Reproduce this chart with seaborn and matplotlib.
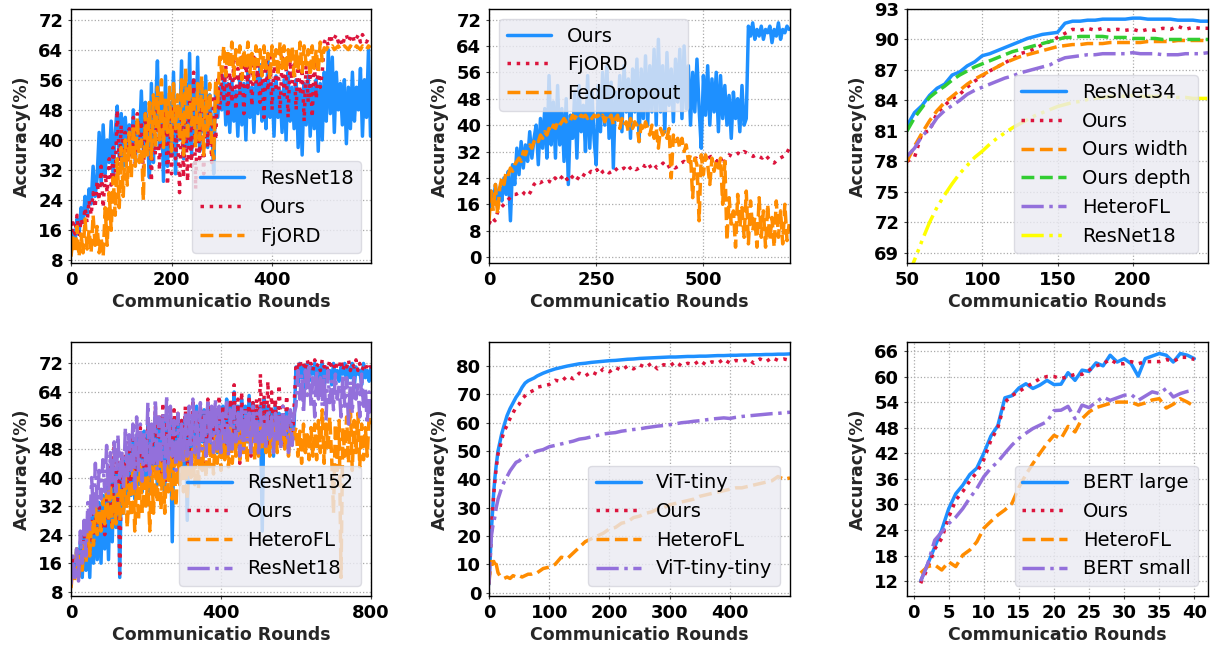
import matplotlib
matplotlib.use("Agg")
import matplotlib.pyplot as plt
import numpy as np
import seaborn as sns

# ---------------- panel 1: ResNet18 / Ours / FjORD (every 4 rounds)
p1_step = 4
p1_resnet18 = [12, 16, 13, 19, 15, 22, 18, 25, 20, 27, 23, 33, 25, 30, 42, 28, 44, 31, 40, 34,
               45, 30, 42, 49, 35, 47, 33, 46, 38, 44, 36, 48, 34, 45, 39, 53, 37, 50, 41, 30,
               55, 34, 48, 61, 38, 52, 29, 57, 33, 50, 36, 58, 31, 49, 40, 61, 35, 55, 38, 63,
               36, 56, 40, 62, 37, 54, 42, 57, 38, 52, 44, 31, 55, 46, 54, 48, 57, 44, 55, 42,
               56, 45, 53, 41, 57, 44, 55, 40, 58, 46, 54, 42, 57, 47, 60, 45, 55, 43, 62, 46,
               55, 41, 57, 46, 53, 42, 56, 40, 58, 45, 54, 43, 56, 38, 53, 36, 55, 44, 57, 41,
               54, 43, 56, 37, 55, 40, 58, 45, 64, 47, 62, 42, 58, 48, 55, 44, 56, 39, 54, 43,
               58, 45, 54, 48, 59, 41, 56, 46, 64, 41]
p1_ours = [13, 18, 15, 20, 14, 19, 17, 22, 18, 24, 20, 26, 22, 29, 24, 33, 22, 31, 26, 35,
           28, 38, 30, 48, 33, 44, 36, 42, 34, 43, 36, 46, 33, 47, 38, 45, 31, 47, 36, 45,
           29, 48, 36, 50, 32, 46, 38, 49, 28, 46, 31, 49, 35, 44, 26, 47, 30, 45, 29, 50,
           33, 58, 27, 47, 35, 49, 31, 52, 38, 48, 34, 52, 40, 56, 48, 58, 50, 60, 46, 58,
           50, 61, 48, 59, 52, 62, 47, 60, 54, 61, 49, 62, 55, 60, 50, 59, 46, 61, 53, 62,
           48, 61, 54, 60, 47, 62, 52, 59, 46, 61, 55, 60, 48, 62, 52, 59, 45, 61, 50, 58,
           46, 61, 51, 59, 54, 58, 66, 67, 65, 68, 66, 67, 68, 66, 67, 65, 67, 68, 66, 67,
           68, 66, 67, 68, 66, 68, 67, 66, 67, 67.5]
p1_fjord = [9, 14, 10, 17, 9, 15, 10, 19, 11, 16, 10, 20, 12, 17, 10, 14, 9, 22, 12, 26,
            16, 30, 20, 35, 22, 38, 25, 40, 28, 42, 30, 44, 33, 46, 34, 40, 24, 47, 36, 50,
            35, 52, 38, 54, 40, 56, 38, 51, 42, 54, 37, 55, 43, 52, 40, 56, 36, 59, 40, 55,
            44, 52, 38, 55, 40, 57, 36, 53, 42, 55, 38, 35, 56, 50, 62, 58, 65, 57, 64, 59,
            66, 57, 64, 60, 65, 56, 64, 59, 66, 58, 63, 56, 65, 60, 64, 57, 65, 59, 63, 56,
            65, 60, 64, 57, 66, 59, 65, 58, 64, 60, 65, 57, 64, 59, 66, 58, 65, 60, 64, 57,
            65, 59, 64, 58, 66, 61, 64.5, 64, 65, 64.5, 65, 64, 64.5, 65, 64, 64.5, 65, 64.5, 64, 65,
            64.5, 64, 65, 64.5, 64, 65, 64.5, 64, 65, 64.5]

# ---------------- panel 2: Ours / FjORD / FedDropout
p2_step = 5
p2_ours = [13, 20, 16, 22, 15, 21, 17, 24, 19, 26, 11, 28, 22, 33, 25, 35, 27, 34, 29, 38,
           30, 36, 40, 28, 42, 33, 45, 30, 55, 34, 47, 30, 52, 34, 45, 29, 48, 22, 43, 36,
           50, 30, 52, 38, 46, 32, 55, 33, 50, 36, 28, 52, 38, 56, 40, 58, 36, 53, 27, 50,
           42, 55, 38, 58, 44, 54, 36, 57, 44, 60, 35, 57, 42, 61, 40, 58, 44, 63, 40, 66,
           44, 58, 38, 62, 46, 57, 41, 60, 47, 63, 42, 64, 45, 58, 40, 56, 44, 60, 45, 33,
           55, 43, 58, 40, 54, 44, 56, 38, 55, 42, 52, 40, 49, 36, 50, 42, 48, 38, 52, 40,
           42, 70, 67, 71, 66, 69, 67, 70, 66, 69, 68, 70, 65, 69, 67, 71, 66, 69, 68, 70, 69]
p2_fjord_step = 7
p2_fjord = [10, 12, 11, 14, 15, 16, 17, 18, 19, 19, 19.5, 20, 19, 18.5, 20, 22, 23, 22.5, 23, 22.5,
            23, 22.5, 24, 23, 24, 25, 23.5, 25, 24, 23, 24.5, 24, 25.5, 25, 26, 25.5, 26.5, 25, 26, 26.5,
            25.5, 26, 27, 26, 26.5, 27, 26, 27, 27.5, 26.5, 27, 28, 27.5, 28.5, 27, 28, 27, 27.5, 28.5, 27,
            27.5, 28, 27, 27.5, 28.5, 29, 28, 29, 28.5, 30, 29, 30, 29.5, 30, 30.5, 30, 29, 30.5, 28, 30,
            31, 30.5, 31, 31.5, 31, 32, 31.5, 31, 30.5, 31, 30.5, 30, 31, 30, 29, 28.5, 29.5, 30, 30.5, 31, 33]
p2_feddropout = [11, 20, 14, 22, 13, 21, 24, 22, 26, 25, 27, 26, 28, 29, 30, 29, 32, 31, 33, 34,
                 33, 35, 36, 35, 37, 36, 38, 37, 39, 38, 40, 39, 41, 40, 41, 42, 41, 42, 41.5, 43,
                 42, 43, 42, 43, 42.5, 43, 42, 43, 42, 43, 42.5, 43, 42, 43, 41, 43, 42, 43, 40, 42,
                 43, 39, 42, 40, 41, 38, 42, 39, 41, 40, 35, 40, 38, 41, 39, 37, 40, 36, 39, 33,
                 39, 37, 38, 36, 39, 24, 37, 35, 36, 33, 36, 32, 34, 29, 31, 18, 30, 28, 11, 31,
                 25, 31, 28, 22, 30, 26, 29, 27, 30, 16, 29, 5, 18, 10, 14, 3, 19, 9, 15, 6,
                 20, 4, 17, 8, 12, 3, 18, 6, 14, 3, 16, 5, 12, 3, 17, 6, 14, 4, 16, 5, 10]

# ---------------- panel 3: ResNet34 family (rounds 50..250, every 5)
p3_start, p3_step = 50, 5
p3_resnet34 = [81.5, 82.8, 83.5, 84.5, 85.2, 85.6, 86.5, 86.8, 87.4, 87.8, 88.4, 88.6, 88.9, 89.2,
               89.5, 89.8, 90.1, 90.3, 90.5, 90.6, 90.7, 91.6, 91.8, 91.8, 91.9, 91.9, 92, 92, 92,
               92, 92.1, 92.1, 92, 92, 92, 92, 91.9, 91.9, 91.9, 91.8, 91.8]
p3_ours = [78, 78.4, 80.8, 81, 82.8, 83.5, 84.2, 84.6, 85.3, 85.9, 86.4, 86.9, 87.3, 87.7, 88.1,
           88.6, 88.8, 89.1, 89.5, 89.8, 90.2, 90.6, 91, 90.9, 91.1, 90.9, 91.1, 90.9, 91, 90.9,
           91, 90.8, 91, 90.9, 91.1, 91, 91.3, 91, 91.2, 91.1, 91.1]
p3_width = [78, 79.5, 80.8, 82, 83, 83.8, 84.4, 85, 85.6, 86.1, 86.5, 86.9, 87.3, 87.7, 88, 88.3,
            88.5, 88.7, 88.9, 89.1, 89.3, 89.4, 89.5, 89.5, 89.6, 89.6, 89.6, 89.7, 89.7, 89.7,
            89.7, 89.7, 89.8, 89.8, 89.8, 89.8, 89.9, 89.9, 89.9, 89.9, 89.9]
p3_depth = [81, 82.3, 83.3, 84.3, 84.9, 85.4, 86, 86.5, 86.9, 87.3, 87.6, 87.9, 88.2, 88.5, 88.8,
            89, 89.2, 89.4, 89.6, 89.8, 90, 90.2, 90.2, 90.3, 90.3, 90.3, 90.3, 90.2, 90.2, 90.2,
            90.1, 90.1, 90.1, 90.1, 90, 90, 90, 90, 90, 90, 90]
p3_heterofl = [78.5, 79.3, 80.5, 81.2, 82.3, 83, 83.5, 84, 84.6, 85, 85.3, 85.6, 85.9, 86.2, 86.4,
               86.7, 86.9, 87.1, 87.3, 87.5, 87.9, 88.2, 88.3, 88.4, 88.5, 88.5, 88.6, 88.6, 88.6,
               88.6, 88.7, 88.6, 88.6, 88.6, 88.5, 88.5, 88.5, 88.6, 88.6, 88.6, 88.7]
p3_resnet18 = [66.5, 68.3, 70.2, 72, 73.5, 74.7, 75.8, 76.8, 77.6, 78.4, 79, 79.7, 80.3, 80.8,
               81.3, 81.7, 82.1, 82.5, 82.8, 83.1, 83.4, 83.6, 83.8, 83.9, 84.1, 84.2, 84.3, 84.4,
               84.4, 84.4, 84.5, 84.4, 84.4, 84.4, 84.4, 84.3, 84.3, 84.3, 84.2, 84.2, 84.2]

# ---------------- panel 4: ResNet152 family (every 5 rounds)
p4_step = 5
p4_resnet152 = [10, 17, 12, 20, 13, 22, 12, 25, 14, 28, 12, 30, 16, 32, 17, 33, 16, 35, 20, 38,
                17, 40, 22, 42, 26, 44, 12, 46, 30, 45, 33, 48, 35, 50, 34, 52, 38, 50, 36, 53,
                40, 55, 36, 54, 42, 57, 38, 55, 40, 56, 35, 57, 42, 56, 22, 55, 44, 57, 45, 56,
                40, 57, 28, 56, 47, 58, 46, 60, 48, 58, 50, 59, 47, 60, 49, 57, 51, 59, 47, 58,
                50, 60, 47, 62, 50, 61, 52, 64, 49, 60, 51, 62, 48, 60, 50, 63, 49, 61, 52, 59,
                50, 60, 25, 62, 48, 60, 50, 59, 46, 60, 52, 58, 49, 57, 50, 59, 48, 56, 50, 55,
                71, 66, 72, 68, 71, 65, 72, 67, 71, 69, 72, 66, 71, 68, 72, 65, 71, 69, 70, 66,
                72, 68, 70, 67, 71, 69, 72, 66, 71, 68, 72, 65, 71, 69, 70, 66, 72, 68, 70, 67, 71]
p4_ours = [11, 18, 13, 19, 12, 17, 15, 24, 18, 22, 18, 30, 22, 29, 24, 32, 26, 30, 24, 34,
           28, 44, 26, 50, 30, 48, 13, 47, 35, 46, 38, 50, 36, 52, 40, 49, 42, 54, 41, 51,
           43, 56, 45, 53, 42, 60, 44, 58, 40, 61, 38, 57, 46, 60, 42, 59, 43, 58, 48, 56,
           45, 60, 42, 57, 46, 62, 48, 58, 45, 60, 50, 58, 44, 62, 50, 60, 46, 59, 49, 63,
           47, 60, 45, 61, 50, 62, 48, 66, 50, 62, 44, 64, 48, 60, 50, 63, 46, 61, 52, 62,
           48, 69, 50, 63, 52, 67, 48, 64, 53, 62, 50, 66, 52, 60, 48, 63, 51, 58, 50, 60,
           72, 70, 73, 71, 72, 70, 73, 71, 72, 70, 73, 71, 72, 70, 73, 71, 72, 70, 73, 71,
           72, 70, 72, 71, 73, 70, 72, 71, 73, 70, 72, 71, 73, 70, 72, 70, 71, 72, 70, 71, 71]
p4_heterofl = [9, 15, 11, 20, 12, 18, 14, 22, 16, 25, 18, 28, 21, 33, 24, 30, 25, 34, 27, 36,
               28, 38, 26, 35, 27, 39, 28, 37, 30, 40, 26, 38, 29, 42, 25, 40, 28, 44, 30, 41,
               32, 40, 25, 43, 30, 44, 33, 45, 31, 44, 30, 44, 36, 47, 34, 45, 32, 46, 38, 48,
               36, 49, 34, 47, 40, 48, 38, 50, 37, 49, 42, 49, 40, 51, 43, 50, 41, 52, 44, 51,
               42, 53, 45, 52, 43, 54, 44, 51, 46, 53, 45, 54, 46, 53, 44, 55, 47, 54, 45, 53,
               46, 55, 48, 54, 47, 55, 46, 56, 48, 54, 47, 55, 49, 53, 48, 55, 46, 54, 49, 52,
               54, 46, 53, 44, 55, 47, 52, 45, 54, 46, 55, 45, 56, 47, 59, 44, 55, 48, 57, 46,
               30, 55, 42, 56, 12, 54, 46, 57, 44, 60, 42, 56, 47, 58, 43, 55, 45, 54, 46, 57, 55]
p4_resnet18 = [10, 18, 12, 20, 11, 25, 16, 28, 18, 33, 25, 40, 30, 44, 32, 42, 34, 45, 36, 49,
               35, 47, 38, 50, 36, 52, 40, 48, 37, 54, 40, 52, 42, 55, 37, 57, 42, 55, 39, 53,
               42, 61, 40, 55, 44, 62, 42, 57, 45, 58, 40, 63, 44, 60, 46, 56, 42, 58, 45, 55,
               44, 58, 46, 60, 43, 62, 47, 59, 45, 61, 48, 59, 46, 62, 49, 60, 47, 62, 48, 60,
               47, 58, 50, 61, 46, 59, 48, 60, 50, 58, 46, 60, 48, 59, 50, 58, 47, 60, 49, 58,
               46, 59, 50, 57, 48, 59, 51, 57, 47, 58, 50, 58, 48, 60, 51, 57, 47, 59, 49, 58,
               60, 70, 62, 69, 58, 70, 63, 71, 60, 68, 57, 70, 62, 68, 60, 69, 56, 70, 61, 67,
               59, 69, 62, 66, 57, 69, 60, 68, 55, 67, 58, 68, 62, 66, 57, 69, 60, 65, 55, 64, 58]

# ---------------- panel 5: ViT family
p5_rounds = [0, 2, 4, 6, 8, 10, 12, 15, 18, 21, 25, 30, 35, 40, 45, 50, 55, 60, 65, 70, 75,
             80, 90, 100, 110, 120, 130, 140, 150, 160, 170, 180, 190, 200, 210, 220, 230, 240,
             250, 260, 270, 280, 290, 300, 310, 320, 330, 340, 350, 360, 370, 380, 390, 400,
             410, 420, 430, 440, 450, 460, 470, 480, 490, 500]
p5_vit = [3, 12, 22, 29, 36, 41, 45, 50, 53, 56, 59, 62.5, 65, 67, 69, 70.5, 72.5, 74, 74.8, 75.3,
          75.8, 76.5, 77.5, 78.3, 79, 79.5, 80, 80.4, 80.8, 81, 81.3, 81.5, 81.7, 81.9, 82, 82.2,
          82.4, 82.5, 82.7, 82.8, 82.9, 83, 83.1, 83.2, 83.2, 83.3, 83.4, 83.4, 83.5, 83.5, 83.6,
          83.7, 83.7, 83.8, 83.8, 83.9, 83.9, 84, 84, 84.1, 84.1, 84.2, 84.2, 84.3]
p5_ours = [3, 12, 22, 29, 35, 40, 44, 49, 51, 54, 57, 59, 61.5, 63.5, 65.5, 66.5, 68.5, 69.5, 70.5,
           71, 71.5, 72.5, 73, 73.5, 75, 74.5, 76.5, 75.5, 77.5, 76.5, 78, 77, 79, 78, 79.5, 78.5,
           80, 79, 80.5, 79.5, 81, 79, 80.5, 80, 81.5, 80, 81, 80.5, 82, 80.5, 81.5, 81, 82.5, 81,
           82, 81.5, 82.5, 81, 82.5, 81.5, 83, 82, 82.5, 82]
p5_heterofl = [3, 9, 11, 10, 11, 9, 10, 7, 6, 5.5, 5, 5.5, 5, 6, 5.5, 6, 5.5, 6, 6.5, 6.5, 7,
               7, 8.5, 9, 10, 12.5, 12, 14, 16, 18, 19, 20, 21, 22.5, 23, 24.5, 25, 26.5, 27, 28,
               28.5, 29.5, 30, 31, 31.5, 32, 32.5, 33, 34, 34.5, 35, 35.5, 36, 36.5, 37, 37, 37.5,
               38, 38.5, 39, 39.5, 41, 40, 40.5]
p5_vit_tiny = [3, 14, 20, 23, 25, 27, 30, 33, 35, 37, 39, 41, 43, 44.5, 46, 46.5, 47.5, 48, 48.5,
               49, 49.5, 50, 50.5, 51.5, 52, 52.5, 53, 53.5, 54.2, 54.5, 55, 55.5, 56, 56.3, 56.5,
               57, 57.3, 57.6, 57.8, 58.2, 58.5, 58.8, 59, 59.3, 59.6, 60, 60.2, 60.5, 60.7, 61,
               61.3, 61.5, 61.7, 61.5, 61.9, 62.2, 62.4, 62.6, 62.8, 63, 63.2, 63.3, 63.5, 63.7]

# ---------------- panel 6: BERT family (rounds 1..40)
p6_rounds = list(range(1, 41))
p6_bert_large = [12, 16, 20, 24, 29, 32.5, 34.5, 37, 38.5, 42, 46, 48.5, 55, 55.5, 57.3, 58.3,
                 57.2, 58, 59.1, 58.1, 58.2, 60.9, 59.1, 61.5, 61.2, 63.2, 62.5, 65, 63.4, 64.2,
                 63, 60.1, 64.2, 64.8, 65.4, 65, 63.4, 65.4, 65, 64.2]
p6_ours = [11.5, 15, 19.5, 22, 27, 31, 33, 35.5, 37.5, 40.5, 45, 48, 54, 55.5, 56.5, 57.5, 58.5,
           59.5, 60, 60, 59.5, 60, 60.5, 60.5, 61.5, 62.5, 63, 64, 63, 63, 63.5, 63, 63.5, 63.5,
           63.5, 64, 63.5, 64.5, 64.5, 64]
p6_heterofl = [13.9, 15.4, 15.8, 14.6, 16.5, 15.4, 18.1, 19.3, 21.2, 24.4, 26, 27.5, 28.7, 30.2,
               34, 37, 39.6, 42, 44.3, 46.2, 45.4, 48.3, 47, 50.1, 51.7, 52.7, 53.2, 53.7, 54,
               54, 54, 53.3, 53.8, 54.5, 54.8, 52.6, 53.5, 54.8, 54, 53]
p6_bert_small = [12, 16, 21.6, 23.5, 25.5, 27, 29, 31.5, 33.7, 36.5, 38.5, 40, 42, 43.9, 45.5,
                 46.7, 47.8, 48.6, 49.4, 52, 52.1, 53, 50.1, 53.3, 52.7, 54, 55.2, 54.4, 55,
                 55.6, 55.8, 54.4, 55.4, 56.4, 56, 57.2, 55.2, 56, 56.5, 56.8]

BLUE, RED, ORANGE = "#1E90FF", "#DC143C", "#FF8C00"
GREEN, PURPLE, YELLOW = "#32CD32", "#9370DB", "#FFFF00"
DOTDOT = (0, (6.4, 1.6, 1, 1.6, 1, 1.6))

sns.set_theme(style="white")
plt.rcParams["font.family"] = ["DejaVu Sans"]
plt.rcParams["axes.edgecolor"] = "black"
plt.rcParams["text.color"] = "black"


def steps(vals, step, start=0):
    return start + step * np.arange(len(vals))


def draw(ax, x, y, color, ls, label):
    sns.lineplot(x=np.asarray(x, float), y=np.asarray(y, float), ax=ax, color=color,
                 linestyle=ls, linewidth=2.5, label=label, estimator=None)


def finish(ax, xlim, ylim, xticks, yticks, loc):
    ax.set_xlim(*xlim)
    ax.set_ylim(*ylim)
    ax.set_xticks(xticks)
    ax.set_yticks(yticks)
    ax.grid(True, linestyle=":", color="#aaaaaa", linewidth=0.9)
    for s in ax.spines.values():
        s.set_color("black")
        s.set_linewidth(1.0)
    ax.tick_params(axis="both", bottom=True, left=True, length=2.5, width=0.8,
                   color="#444444", pad=3, labelsize=13, labelcolor="black")
    for t in ax.get_xticklabels() + ax.get_yticklabels():
        t.set_fontweight("bold")
    ax.set_xlabel("Communicatio Rounds", fontsize=12.5, fontweight="bold", labelpad=3)
    ax.set_ylabel("Accuracy(%)", fontsize=12.5, fontweight="bold", labelpad=5)
    ax.legend(loc=loc, fontsize=14, facecolor="#EAEAF2", edgecolor="#d5d5dd",
              framealpha=0.8, handlelength=2.3, handletextpad=0.8)


fig = plt.figure(figsize=(12.11, 6.47), dpi=100)
W, H = 1211, 647
cols = [(71, 371), (489, 790), (907, 1208)]
rows = [(9, 263), (342, 596)]
axes = []
for (top, bot) in rows:
    for (l, r) in cols:
        axes.append(fig.add_axes([l / W, (H - bot) / H, (r - l) / W, (bot - top) / H]))

ax = axes[0]
draw(ax, steps(p1_resnet18, p1_step), p1_resnet18, BLUE, "-", "ResNet18")
draw(ax, steps(p1_ours, p1_step), p1_ours, RED, ":", "Ours")
draw(ax, steps(p1_fjord, p1_step), p1_fjord, ORANGE, "--", "FjORD")
finish(ax, (0, 597), (7.3, 74.8), [0, 200, 400], range(8, 73, 8), "lower right")

ax = axes[1]
draw(ax, steps(p2_ours, p2_step), p2_ours, BLUE, "-", "Ours")
draw(ax, steps(p2_fjord, p2_fjord_step), p2_fjord, RED, ":", "FjORD")
draw(ax, steps(p2_feddropout, p2_step), p2_feddropout, ORANGE, "--", "FedDropout")
finish(ax, (0, 702), (-1.8, 75.2), [0, 250, 500], range(0, 73, 8), "upper left")

ax = axes[2]
x3 = steps(p3_resnet34, p3_step, p3_start)
draw(ax, x3, p3_resnet34, BLUE, "-", "ResNet34")
draw(ax, x3, p3_ours, RED, ":", "Ours")
draw(ax, x3, p3_width, ORANGE, "--", "Ours width")
draw(ax, x3, p3_depth, GREEN, "--", "Ours depth")
draw(ax, x3, p3_heterofl, PURPLE, "-.", "HeteroFL")
draw(ax, x3, p3_resnet18, YELLOW, DOTDOT, "ResNet18")
finish(ax, (50, 250), (68, 93), [50, 100, 150, 200], range(69, 94, 3), "lower right")

ax = axes[3]
draw(ax, steps(p4_resnet152, p4_step), p4_resnet152, BLUE, "-", "ResNet152")
draw(ax, steps(p4_ours, p4_step), p4_ours, RED, ":", "Ours")
draw(ax, steps(p4_heterofl, p4_step), p4_heterofl, ORANGE, "--", "HeteroFL")
draw(ax, steps(p4_resnet18, p4_step), p4_resnet18, PURPLE, "-.", "ResNet18")
finish(ax, (0, 800), (6.8, 78), [0, 400, 800], range(8, 73, 8), "lower right")

ax = axes[4]
draw(ax, p5_rounds, p5_vit, BLUE, "-", "ViT-tiny")
draw(ax, p5_rounds, p5_ours, RED, ":", "Ours")
draw(ax, p5_rounds, p5_heterofl, ORANGE, "--", "HeteroFL")
draw(ax, p5_rounds, p5_vit_tiny, PURPLE, "-.", "ViT-tiny-tiny")
finish(ax, (0, 500), (-1.2, 88.5), range(0, 401, 100), range(0, 81, 10), "lower right")

ax = axes[5]
draw(ax, p6_rounds, p6_bert_large, BLUE, "-", "BERT large")
draw(ax, p6_rounds, p6_ours, RED, ":", "Ours")
draw(ax, p6_rounds, p6_heterofl, ORANGE, "--", "HeteroFL")
draw(ax, p6_rounds, p6_bert_small, PURPLE, "-.", "BERT small")
finish(ax, (-0.95, 41.95), (8.5, 68.1), range(0, 41, 5), range(12, 67, 6), "lower right")

fig.savefig("out.png", dpi=100)
